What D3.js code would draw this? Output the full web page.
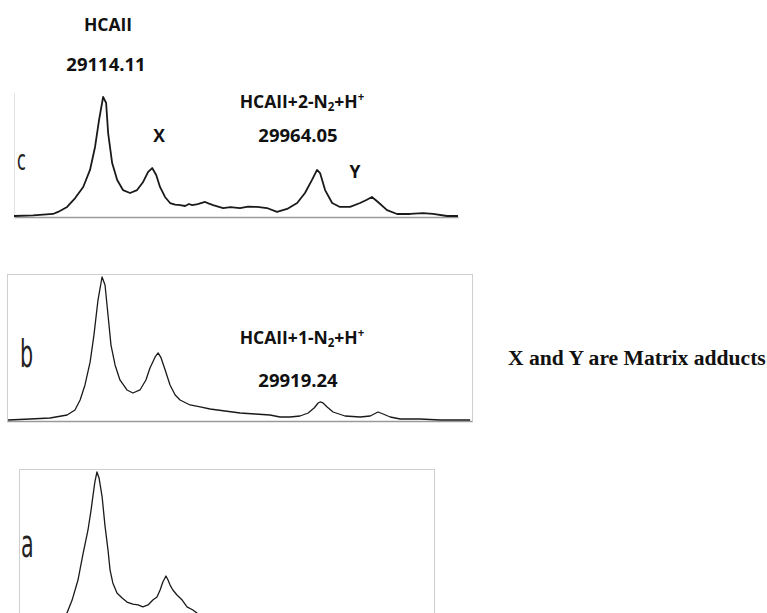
<!DOCTYPE html>
<html>
<head>
<meta charset="utf-8">
<script src="https://cdn.jsdelivr.net/npm/d3@7/dist/d3.min.js"></script>
<style>
  body { margin: 0; background: #fff; }
  svg { display: block; }
  .lbl { font-family: "Open Sans", "Noto Sans", sans-serif; font-weight: 700; font-size: 17.5px; fill: #111; }
  .num { font-size: 18.5px; }
  .panel-id { font-family: "Liberation Sans Narrow", "DejaVu Sans Condensed", sans-serif; font-weight: 400; fill: #222; }
  .note { font-family: "Liberation Serif", "Times New Roman", serif; font-weight: 700; font-size: 21.6px; fill: #111; }
</style>
</head>
<body>
<div id="chart"></div>
<script>
// spectra: mass (Da) and relative intensity (%)
var massC = [28760, 28836, 28915, 28935, 28971, 29003, 29035, 29062, 29082, 29098, 29114, 29126, 29134, 29150, 29170, 29193, 29221, 29249, 29273, 29293, 29309, 29325, 29340, 29360, 29380, 29400, 29420, 29440, 29455, 29468, 29490, 29519, 29535, 29551, 29591, 29620, 29658, 29690, 29726, 29765, 29805, 29845, 29885, 29916, 29944, 29964, 29976, 29996, 30024, 30055, 30095, 30135, 30160, 30182, 30206, 30242, 30282, 30333, 30385, 30425, 30480, 30524];
var intC  = [0, 0.5, 1.7, 3.4, 7.6, 15.1, 24.4, 38.7, 58.0, 80.7, 100, 95, 69.7, 44.5, 30.3, 21.8, 19.3, 21.8, 28.6, 37.0, 40.3, 34.5, 24.4, 16.0, 10.9, 9.5, 9.2, 8.4, 10.1, 9.2, 10.0, 11.8, 10.4, 9.2, 6.7, 7.4, 6.7, 7.9, 7.6, 6.7, 3.4, 5.9, 10.9, 19.3, 30.3, 38.7, 36.1, 21.8, 10.9, 7.6, 7.6, 10.9, 13.5, 16.0, 11.8, 5.0, 1.7, 1.7, 2.5, 1.7, 0, 0];

var massB = [28767, 28848, 28922, 28985, 29014, 29033, 29051, 29070, 29084, 29099, 29114, 29125, 29136, 29147, 29162, 29180, 29206, 29228, 29254, 29276, 29291, 29310, 29321, 29332, 29347, 29365, 29384, 29402, 29439, 29476, 29513, 29568, 29624, 29679, 29734, 29771, 29808, 29845, 29875, 29897, 29912, 29919, 29930, 29945, 29967, 30011, 30067, 30104, 30133, 30152, 30178, 30215, 30288, 30362, 30473];
var intB  = [0, 0.7, 1.4, 3.5, 7.0, 14.0, 24.5, 40.6, 59.4, 83.9, 100, 94.4, 73.4, 52.4, 38.5, 28.0, 21.0, 18.9, 21.0, 28.0, 36.4, 44.1, 46.9, 43.4, 35.0, 24.5, 17.5, 14.0, 10.5, 9.1, 7.7, 6.3, 4.9, 4.2, 3.5, 2.1, 2.1, 2.8, 4.9, 8.4, 11.9, 12.6, 11.9, 9.1, 5.6, 2.8, 2.1, 2.8, 5.6, 4.2, 2.1, 0.7, 0.7, 0, 0];

var massA = [28888, 28949, 28992, 29027, 29042, 29059, 29073, 29088, 29097, 29102, 29108, 29114, 29120, 29129, 29137, 29146, 29152, 29160, 29172, 29187, 29201, 29218, 29233, 29247, 29262, 29276, 29288, 29297, 29305, 29314, 29320, 29326, 29334, 29346, 29361, 29375, 29392, 29404, 29427, 29500];
var intA  = [0, 1.3, 3.3, 7.8, 16.3, 29.4, 45.8, 62.1, 75.2, 83.7, 93.5, 100, 96.1, 83.7, 65.4, 49.0, 35.9, 27.5, 20.9, 17.6, 15.0, 13.7, 13.1, 11.8, 13.1, 16.3, 18.3, 22.9, 28.1, 32.0, 29.4, 26.1, 22.9, 19.6, 16.3, 11.8, 9.8, 7.8, 4.6, 2.0];

var panelIds = ["c", "b", "a"];
var noteText = "X and Y are Matrix adducts";

var width = 767, height = 613;
var svg = d3.select("#chart").append("svg")
    .attr("width", width)
    .attr("height", height);

function drawPanel(opts) {
    var x = d3.scaleLinear().domain(opts.domain).range([opts.x0, opts.x1]);
    var y = d3.scaleLinear().domain([0, 100]).range([opts.base, opts.peakY]);
    var g = svg.append("g");

    if (opts.box) {
        g.append("rect")
            .attr("x", opts.x0 + 0.5).attr("y", opts.top + 0.5)
            .attr("width", opts.x1 - opts.x0).attr("height", opts.bottom - opts.top)
            .attr("fill", "none").attr("stroke", "#cfcfcf");
    } else {
        g.append("line")
            .attr("x1", opts.x0 + 0.5).attr("x2", opts.x0 + 0.5)
            .attr("y1", opts.top).attr("y2", opts.base)
            .attr("stroke", "#e2e2e2");
    }

    // baseline
    g.append("g")
        .attr("transform", "translate(0," + (opts.base + 1) + ")")
        .call(d3.axisBottom(x).ticks(0).tickSizeOuter(0))
        .select(".domain").attr("stroke", "#9a9a9a").attr("stroke-width", 1.5);

    var pts = d3.zip(opts.mass, opts.ints);
    g.append("path")
        .datum(pts)
        .attr("fill", "none")
        .attr("stroke", "#1a1a1a")
        .attr("stroke-width", opts.sw)
        .attr("stroke-linejoin", "round")
        .attr("d", d3.line().x(function(d) { return x(d[0]); }).y(function(d) { return y(d[1]); }));

    g.append("text")
        .attr("class", "panel-id")
        .attr("transform", "translate(" + opts.idX + "," + opts.idY + ") scale(0.62,1)")
        .style("font-size", opts.idSize + "px")
        .text(opts.id);
}

drawPanel({ id: panelIds[0], mass: massC, ints: intC, domain: [28760, 30524],
    x0: 14, x1: 458, top: 93, bottom: 217, base: 216, peakY: 97, box: false, sw: 1.8,
    idX: 17, idY: 170, idSize: 29 });
drawPanel({ id: panelIds[1], mass: massB, ints: intB, domain: [28763, 30480],
    x0: 7, x1: 472, top: 274, bottom: 421, base: 420, peakY: 277, box: true, sw: 1.3,
    idX: 20, idY: 367, idSize: 37 });
drawPanel({ id: panelIds[2], mass: massA, ints: intA, domain: [28888, 30091],
    x0: 19, x1: 434, top: 469, bottom: 640, base: 625, peakY: 472, box: true, sw: 1.3,
    idX: 21, idY: 557, idSize: 37 });

// peak annotations
function label(xp, yp, parts, cls) {
    var t = svg.append("text").attr("class", "lbl " + (cls || "")).attr("x", xp).attr("y", yp).attr("text-anchor", "middle");
    parts.forEach(function(p) {
        var s = t.append("tspan").text(p.t);
        if (p.sub) s.attr("font-size", "11.5px").attr("baseline-shift", "-3");
        if (p.sup) s.attr("font-size", "11.5px").attr("baseline-shift", "7");
    });
}

label(108, 31, [{ t: "HCAII" }]);
label(106, 71, [{ t: "29114.11" }], "num");
label(302, 108, [{ t: "HCAII+2-N" }, { t: "2", sub: true }, { t: "+H" }, { t: "+", sup: true }]);
label(298, 142, [{ t: "29964.05" }], "num");
label(159, 142, [{ t: "X" }]);
label(355, 178, [{ t: "Y" }]);
label(302, 344, [{ t: "HCAII+1-N" }, { t: "2", sub: true }, { t: "+H" }, { t: "+", sup: true }]);
label(298, 387, [{ t: "29919.24" }], "num");

svg.append("text").attr("class", "note")
    .attr("x", 508).attr("y", 365)
    .text(noteText);
</script>
</body>
</html>
